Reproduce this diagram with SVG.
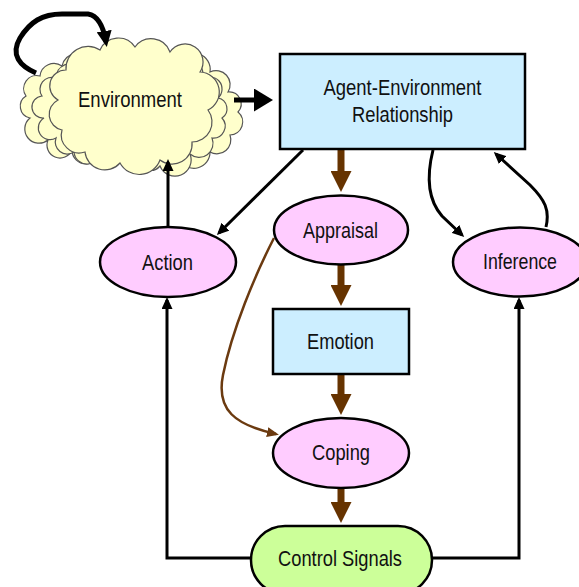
<svg xmlns="http://www.w3.org/2000/svg" width="579" height="587" viewBox="0 0 579 587">
<defs>
<style>
text{font-family:"Liberation Sans",Arial,sans-serif;font-size:22px;fill:#111;text-anchor:middle}
.node{stroke:#000;stroke-width:2.5}
.ell{fill:#ffccff}
.box{fill:#cceeff}
.cloud{fill:#ffffcc;stroke:#555;stroke-width:1.2}
.thin{fill:none;stroke:#000;stroke-width:3}
.thick{fill:none;stroke:#000;stroke-width:5}
.brown{fill:none;stroke:#663300;stroke-width:7}
.brownthin{fill:none;stroke:#6b3a10;stroke-width:2.5}
</style>
<marker id="ah" markerUnits="userSpaceOnUse" markerWidth="12" markerHeight="11" refX="9" refY="5.5" orient="auto"><path d="M0,0 L12,5.5 L0,11 z" fill="#000"/></marker>
<marker id="ahBig" markerUnits="userSpaceOnUse" markerWidth="19" markerHeight="23" refX="12" refY="11.5" orient="auto"><path d="M0,0 L19,11.5 L0,23 z" fill="#000"/></marker>
<marker id="ahLoop" markerUnits="userSpaceOnUse" markerWidth="16" markerHeight="15" refX="11" refY="7.5" orient="auto"><path d="M0,0 L16,7.5 L0,15 z" fill="#000"/></marker>
<marker id="ahBrown" markerUnits="userSpaceOnUse" markerWidth="21" markerHeight="21" refX="12" refY="10.5" orient="auto"><path d="M0,0 L21,10.5 L0,21 z" fill="#663300"/></marker>
<marker id="ahBrownThin" markerUnits="userSpaceOnUse" markerWidth="12" markerHeight="10" refX="9" refY="5" orient="auto"><path d="M0,0 L12,5 L0,10 z" fill="#6b3a10"/></marker>
</defs>
<rect width="579" height="587" fill="#fff"/>

<g id="environment">
<path class="cloud" d="M30,118 A12,12 0 0 1 26,96 A13,13 0 0 1 40,76 A14,14 0 0 1 62,66 A16,16 0 0 1 92,62 L100,150 A14,14 0 0 1 72,150 A13,13 0 0 1 48,140 A12,12 0 0 1 30,118 Z"/>
<path class="cloud" d="M44,118 A11,11 0 0 1 42,96 A12,12 0 0 1 56,78 A14,14 0 0 1 80,68 L100,150 A13,13 0 0 1 74,152 A12,12 0 0 1 56,138 A11,11 0 0 1 44,118 Z"/>
<path class="cloud" d="M150,70 A16,16 0 0 1 180,62 A16,16 0 0 1 210,72 A14,14 0 0 1 228,92 A12,12 0 0 1 238,112 A13,13 0 0 1 230,135 A14,14 0 0 1 210,152 A16,16 0 0 1 180,160 L150,160 Z"/>
<path class="cloud" d="M150,72 A15,15 0 0 1 178,66 A14,14 0 0 1 202,80 A12,12 0 0 1 218,98 A11,11 0 0 1 222,118 A12,12 0 0 1 212,138 A14,14 0 0 1 190,154 A15,15 0 0 1 160,166 A12,12 0 0 1 140,164 Z"/>
<path class="cloud" d="M58,100 A16,16 0 0 1 66,70 A22,22 0 0 1 100,50 A20,20 0 0 1 135,47 A20,20 0 0 1 170,52 A18,18 0 0 1 200,72 A20,20 0 0 1 208,110 A20,20 0 0 1 192,142 A20,20 0 0 1 160,160 A22,22 0 0 1 120,163 A20,20 0 0 1 85,152 A18,18 0 0 1 62,130 A16,16 0 0 1 58,100 Z"/>
<text x="130" y="107" textLength="104" lengthAdjust="spacingAndGlyphs">Environment</text>
</g>

<g id="connectors">
<path class="thick" d="M36,73 C20,66 10,55 20,38 C30,22 42,14 62,14 L88,14 C100,16 104,30 106,42" marker-end="url(#ahLoop)"/>
<path class="thick" d="M234,100 L266,100" marker-end="url(#ahBig)"/>
<path class="thin" d="M168,226 L168,162" marker-end="url(#ah)"/>
<path class="thin" d="M303,150 L219,233" marker-end="url(#ah)"/>
<path class="thin" d="M251,558 L167,558 L167,300" marker-end="url(#ah)"/>
<path class="thin" d="M432,558 L519,558 L519,300" marker-end="url(#ah)"/>
<path class="thin" d="M433,150 C426,178 428,200 442,216 L462,235" marker-end="url(#ah)"/>
<path class="thin" d="M546,227 C550,210 545,200 530,185 L496,154" marker-end="url(#ah)"/>
<path class="brown" d="M341,150 L341,183" marker-end="url(#ahBrown)"/>
<path class="brown" d="M341,265 L341,297" marker-end="url(#ahBrown)"/>
<path class="brown" d="M341,375 L341,406" marker-end="url(#ahBrown)"/>
<path class="brown" d="M341,489 L341,514" marker-end="url(#ahBrown)"/>
<path class="brownthin" d="M274,238 C255,275 232,330 223,375 C216,410 235,425 276,434" marker-end="url(#ahBrownThin)"/>
</g>

<g id="aer">
<rect class="node box" x="280" y="54" width="245" height="95"/>
<text x="402.5" y="95" textLength="158" lengthAdjust="spacingAndGlyphs">Agent-Environment</text>
<text x="402.5" y="122" textLength="101" lengthAdjust="spacingAndGlyphs">Relationship</text>
</g>

<g id="appraisal">
<ellipse class="node ell" cx="341" cy="230" rx="67" ry="34.5"/>
<text x="340.5" y="238" textLength="75" lengthAdjust="spacingAndGlyphs">Appraisal</text>
</g>

<g id="action">
<ellipse class="node ell" cx="168" cy="262" rx="68" ry="35"/>
<text x="167.5" y="270" textLength="51" lengthAdjust="spacingAndGlyphs">Action</text>
</g>

<g id="inference">
<ellipse class="node ell" cx="520" cy="262" rx="67" ry="34.5"/>
<text x="520" y="269" textLength="74" lengthAdjust="spacingAndGlyphs">Inference</text>
</g>

<g id="emotion">
<rect class="node box" x="273" y="309" width="136" height="65"/>
<text x="340.5" y="349" textLength="67" lengthAdjust="spacingAndGlyphs">Emotion</text>
</g>

<g id="coping">
<ellipse class="node ell" cx="341" cy="453" rx="68" ry="35"/>
<text x="341" y="460" textLength="58" lengthAdjust="spacingAndGlyphs">Coping</text>
</g>

<g id="control">
<rect class="node" x="251" y="526" width="181" height="68" rx="34" fill="#ccff99"/>
<text x="340" y="566" textLength="124" lengthAdjust="spacingAndGlyphs">Control Signals</text>
</g>
</svg>
